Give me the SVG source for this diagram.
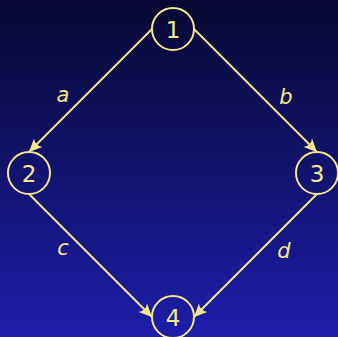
<svg xmlns="http://www.w3.org/2000/svg" width="338" height="337" viewBox="0 0 338 337">
  <defs>
    <linearGradient id="bg" x1="0" y1="0" x2="0" y2="1">
      <stop offset="0" stop-color="#080832"/>
      <stop offset="1" stop-color="#1d1daa"/>
    </linearGradient>
    <marker id="arr" viewBox="-14 -7 15 14" refX="0" refY="0" markerWidth="15" markerHeight="14" markerUnits="userSpaceOnUse" orient="auto">
      <path d="M0,0 L-13,-6 Q-8.5,0 -13,6 Z" fill="#f5e88c"/>
    </marker>
    <style>
      .node circle { fill: none; stroke: #f5e88c; stroke-width: 2; }
      .node text { fill: #f5e88c; font-family: "DejaVu Sans", sans-serif; font-size: 23px; text-anchor: middle; }
      .edge line { stroke: #f5e88c; stroke-width: 2; marker-end: url(#arr); }
      .lbl { fill: #f5e88c; font-family: "DejaVu Sans", sans-serif; font-style: italic; font-size: 21px; text-anchor: middle; }
    </style>
  </defs>
  <rect width="338" height="337" fill="url(#bg)"/>
  <g id="connectors" class="edge">
    <line x1="152" y1="29" x2="29" y2="152"/>
    <line x1="194" y1="29" x2="317" y2="152"/>
    <line x1="29" y1="194" x2="152" y2="317"/>
    <line x1="317" y1="194" x2="194" y2="317"/>
  </g>
  <g id="labels">
    <text class="lbl" x="63" y="102">a</text>
    <text class="lbl" x="286" y="104">b</text>
    <text class="lbl" x="63" y="255">c</text>
    <text class="lbl" x="284" y="258">d</text>
  </g>
  <g id="node1" class="node"><circle cx="173" cy="29" r="21"/><text x="173" y="37.5">1</text></g>
  <g id="node2" class="node"><circle cx="29" cy="173" r="21"/><text x="29" y="181.5">2</text></g>
  <g id="node3" class="node"><circle cx="317" cy="173" r="21"/><text x="317" y="181.5">3</text></g>
  <g id="node4" class="node"><circle cx="173" cy="317" r="21"/><text x="173" y="325.5">4</text></g>
</svg>
